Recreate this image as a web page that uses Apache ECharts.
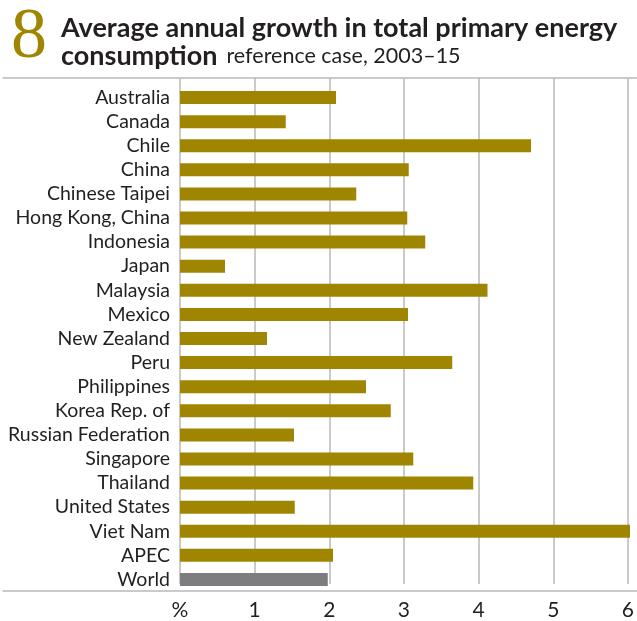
<!DOCTYPE html>
<html>
<head>
<meta charset="utf-8">
<script src="https://cdn.jsdelivr.net/npm/echarts@6/dist/echarts.min.js"></script>
<style>
  html, body { margin: 0; padding: 0; background: #fff; }
  #chart { width: 637px; height: 621px; }
</style>
</head>
<body>
<div id="chart"></div>
<script>
// Economies, in display order (top to bottom)
const economies = [
  'Australia', 'Canada', 'Chile', 'China', 'Chinese Taipei', 'Hong Kong, China',
  'Indonesia', 'Japan', 'Malaysia', 'Mexico', 'New Zealand', 'Peru',
  'Philippines', 'Korea Rep. of', 'Russian Federation', 'Singapore', 'Thailand',
  'United States', 'Viet Nam', 'APEC', 'World'
];
// Average annual growth in total primary energy consumption, % per year, 2003–15
const growth = [
  2.08, 1.41, 4.68, 3.05, 2.35, 3.03,
  3.27, 0.60, 4.10, 3.04, 1.16, 3.63,
  2.48, 2.81, 1.52, 3.11, 3.91,
  1.53, 6.03, 2.04, 1.97
];
// x-axis tick labels, 0 shown as the unit sign
const tickLabels = ['%', '1', '2', '3', '4', '5', '6'];

const FONT = 'Lato, "Noto Sans", sans-serif';
const GOLD = '#a08600';
const GREY = '#7d7d80';
const LINE = '#b9b9bd';
const INK = '#231f20';

const chart = echarts.init(document.getElementById('chart'), null, { renderer: 'canvas' });

chart.setOption({
  backgroundColor: '#fff',
  animation: false,
  title: [
    {
      text: '8',
      left: 6, top: -3,
      textStyle: { fontFamily: '"Liberation Serif", "DejaVu Serif", serif', fontSize: 72, fontWeight: 'normal', color: GOLD }
    },
    {
      text: '{b|Average annual growth in total primary energy}\n{b|consumption}{r|reference case, 2003–15}',
      left: 56, top: 9,
      textStyle: {
        rich: {
          b: { fontFamily: FONT, fontSize: 27, fontWeight: 'bold', color: INK, lineHeight: 28 },
          r: { fontFamily: FONT, fontSize: 21.5, fontWeight: 'normal', color: INK, lineHeight: 28, padding: [0, 0, 0, 9] }
        }
      }
    }
  ],
  grid: [
    // bars
    { left: 180, right: 7, top: 85.5, bottom: 29.5, containLabel: false },
    // vertical gridlines and x labels
    { left: 180, right: 7, top: 78, bottom: 30, containLabel: false },
    // full-width top and bottom rules
    { left: 3, right: 0, top: 78, bottom: 30, containLabel: false }
  ],
  xAxis: [
    {
      gridIndex: 0, type: 'value', min: 0, max: 6, interval: 1,
      axisLine: { show: false }, axisTick: { show: false },
      axisLabel: { show: false }, splitLine: { show: false }
    },
    {
      gridIndex: 1, type: 'value', min: 0, max: 6, interval: 1,
      position: 'bottom',
      axisLine: { show: false }, axisTick: { show: false },
      splitLine: { show: true, lineStyle: { color: LINE, width: 1.5 } },
      axisLabel: {
        margin: 16,
        fontFamily: FONT, fontSize: 21, color: INK,
        formatter: (v) => tickLabels[Math.round(v)]
      }
    },
    {
      gridIndex: 2, type: 'value', min: 0, max: 1, position: 'bottom',
      axisLine: { show: true, lineStyle: { color: LINE, width: 1.5 } },
      axisTick: { show: false }, axisLabel: { show: false }, splitLine: { show: false }
    },
    {
      gridIndex: 2, type: 'value', min: 0, max: 1, position: 'top',
      axisLine: { show: true, lineStyle: { color: LINE, width: 1.5 } },
      axisTick: { show: false }, axisLabel: { show: false }, splitLine: { show: false }
    }
  ],
  yAxis: [
    {
      gridIndex: 0, type: 'category', data: economies, inverse: true,
      axisLine: { show: false }, axisTick: { show: false },
      axisLabel: { interval: 0, margin: 10, fontFamily: FONT, fontSize: 19.5, color: INK }
    },
    { gridIndex: 1, type: 'value', show: false },
    { gridIndex: 2, type: 'value', show: false }
  ],
  series: [
    {
      type: 'bar',
      xAxisIndex: 0, yAxisIndex: 0,
      data: growth.map((v, i) => ({
        value: v,
        itemStyle: { color: economies[i] === 'World' ? GREY : GOLD }
      })),
      barWidth: 13,
      z: 3
    }
  ]
});
</script>
</body>
</html>
